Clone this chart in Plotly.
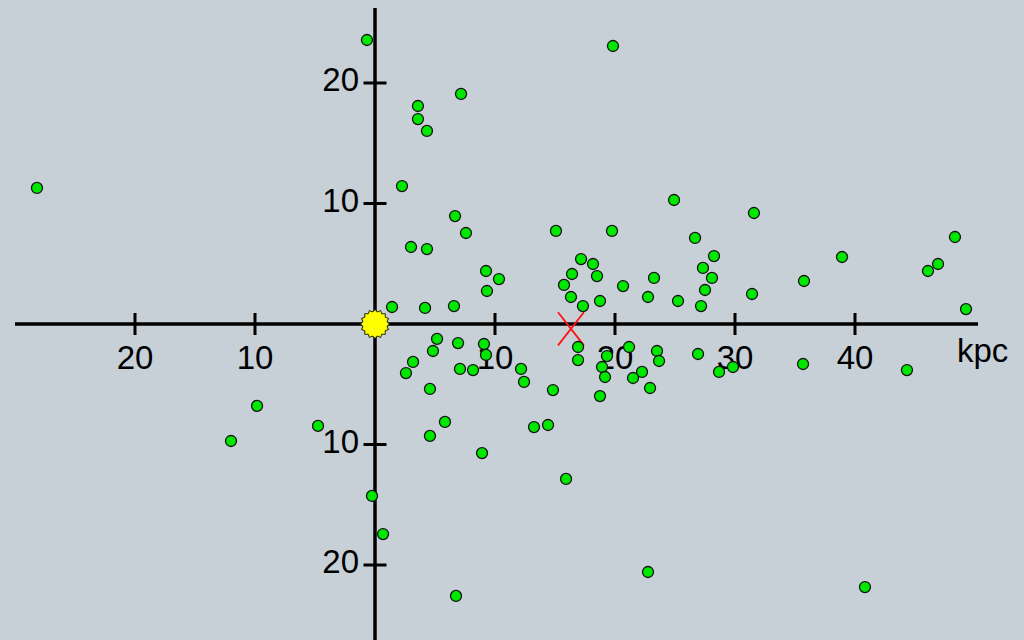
import plotly.graph_objects as go

# ---- data (kpc) ----
sat_x = [-28.17, -0.67, 19.83, 3.58, 7.17, 3.58, 4.33, 2.25, 6.67, 7.58, 3.0, 4.33,
         1.42, 4.17, 6.58, 9.25, 10.33, 9.33, 24.92, 15.08, 19.75, 17.17, 18.17, 16.42,
         18.5, 15.75, 16.33, 17.33, 18.75, 20.67, 23.25, 22.75, 25.25, 26.67, 27.33,
         28.25, 28.08, 27.5, 27.17, 31.58, 31.42, 35.75, 38.92, 46.08, 46.92, 48.33, 49.25,
         5.17, 4.83, 3.17, 2.58, 6.92, 9.08, 9.25, 7.08, 8.17, 4.58, 12.17, 12.42, 14.83,
         16.92, 16.92, 19.33, 18.92, 19.17, 18.75, 21.17, 22.25, 21.5, 23.5, 23.67, 22.92,
         26.92, 28.67, 29.83, 35.67, 44.33, -4.75, -9.83, -12.0, 5.83, 4.58, 13.25, 14.42,
         8.92, 15.92, -0.25, 0.67, 22.75, 6.75, 40.83]
sat_y = [11.29, 23.57, 23.07, 18.09, 19.09, 17.01, 16.02, 11.45, 8.96, 7.55, 6.39, 6.22,
         1.41, 1.33, 1.49, 4.40, 3.73, 2.74, 10.29, 7.72, 7.72, 5.39, 4.98, 4.15,
         3.98, 3.24, 2.24, 1.49, 1.91, 3.15, 3.82, 2.24, 1.91, 7.14, 4.65,
         5.64, 3.82, 2.82, 1.49, 9.21, 2.49, 3.57, 5.56, 4.40, 4.98, 7.22, 1.24,
         -1.24, -2.24, -3.15, -4.07, -1.58, -1.66, -2.57, -3.73, -3.82, -5.39, -3.73, -4.81, -5.48,
         -1.91, -2.99, -2.66, -3.57, -4.40, -5.98, -1.91, -3.98, -4.48, -2.24, -3.07, -5.31,
         -2.49, -3.98, -3.57, -3.32, -3.82, -8.46, -6.80, -9.71, -8.13, -9.29, -8.55, -8.38,
         -10.71, -12.86, -14.27, -17.43, -20.58, -22.57, -21.83]

sun_x = [0.0]
sun_y = [0.0]
center_x = [16.33]
center_y = [-0.4]

x_ticks = [-20, -10, 10, 20, 30, 40]
x_tick_labels = ["20", "10", "10", "20", "30", "40"]
y_ticks = [-20, -10, 10, 20]
y_tick_labels = ["20", "10", "10", "20"]
unit_label = "kpc"

# ---- frame geometry (pixel based) ----
W, H = 1024, 640
OX, OY = 375, 324          # pixel position of origin
SX, SY = 12.0, 12.05       # pixels per kpc
x_range = [(0 - OX) / SX, (W - OX) / SX]
y_range = [(OY - H) / SY, OY / SY]

BG = "rgb(199,208,215)"
FONT = "Liberation Sans, Arial, sans-serif"
FS = 33

fig = go.Figure()

# axis lines
shapes = [
    dict(type="line", x0=(15 - OX) / SX, x1=(978 - OX) / SX, y0=0, y1=0,
         line=dict(color="black", width=3.5), layer="below"),
    dict(type="line", x0=0, x1=0, y0=(OY - 8) / SY, y1=y_range[0] - 1,
         line=dict(color="black", width=3.5), layer="below"),
]
tl = 11
for t in x_ticks:
    shapes.append(dict(type="line", x0=t, x1=t, y0=-tl / SY, y1=tl / SY,
                       line=dict(color="black", width=3), layer="below"))
for t in y_ticks:
    shapes.append(dict(type="line", x0=-11.5 / SX, x1=11.5 / SX, y0=t, y1=t,
                       line=dict(color="black", width=3), layer="below"))

# tick labels (drawn beneath the markers)
fig.add_trace(go.Scatter(
    x=x_ticks, y=[(OY - 361) / SY] * len(x_ticks), mode="text",
    text=x_tick_labels, textposition="middle center",
    textfont=dict(family=FONT, size=FS, color="black"), hoverinfo="skip"))
fig.add_trace(go.Scatter(
    x=[(359 - OX) / SX] * len(y_ticks), y=y_ticks, mode="text",
    text=y_tick_labels, textposition="middle left",
    textfont=dict(family=FONT, size=FS, color="black"), hoverinfo="skip"))
fig.add_trace(go.Scatter(
    x=[(957 - OX) / SX], y=[(OY - 354) / SY], mode="text",
    text=[unit_label], textposition="middle right",
    textfont=dict(family=FONT, size=FS, color="black"), hoverinfo="skip"))

# sun (burst: rotated squares + disc, dark outline layer then yellow layer)
angles = [0, 22.5, 45, 67.5]
for col, sq, disc in [("#2e2e00", 21.5, 23.5), ("#ffff00", 19.5, 21)]:
    fig.add_trace(go.Scatter(x=sun_x, y=sun_y, mode="markers",
                             marker=dict(symbol="circle", size=disc, color=col,
                                         line=dict(width=0)),
                             hoverinfo="skip"))
    for a in angles:
        fig.add_trace(go.Scatter(x=sun_x, y=sun_y, mode="markers",
                                 marker=dict(symbol="square", size=sq, angle=a,
                                             color=col, line=dict(width=0)),
                                 hoverinfo="skip"))

# galactic centre marker (tall red X)
for a in [38, -38]:
    fig.add_trace(go.Scatter(x=center_x, y=center_y, mode="markers",
                             marker=dict(symbol="line-ns", size=30, angle=a,
                                         line=dict(color="#ff1010", width=1.8)),
                             hoverinfo="skip"))

# satellites
fig.add_trace(go.Scatter(x=sat_x, y=sat_y, mode="markers",
                         marker=dict(symbol="circle", size=11, color="#00e800",
                                     line=dict(color="#141414", width=1.3)),
                         hoverinfo="skip"))

fig.update_layout(
    width=W, height=H, autosize=False,
    margin=dict(l=0, r=0, t=0, b=0, pad=0),
    paper_bgcolor=BG, plot_bgcolor=BG,
    showlegend=False,
    shapes=shapes,
    xaxis=dict(range=x_range, visible=False, fixedrange=True),
    yaxis=dict(range=y_range, visible=False, fixedrange=True),
)

fig.write_html("out.html", config={"displayModeBar": False},
               post_script="document.body.style.margin='0';document.body.style.background='" + BG + "';")
